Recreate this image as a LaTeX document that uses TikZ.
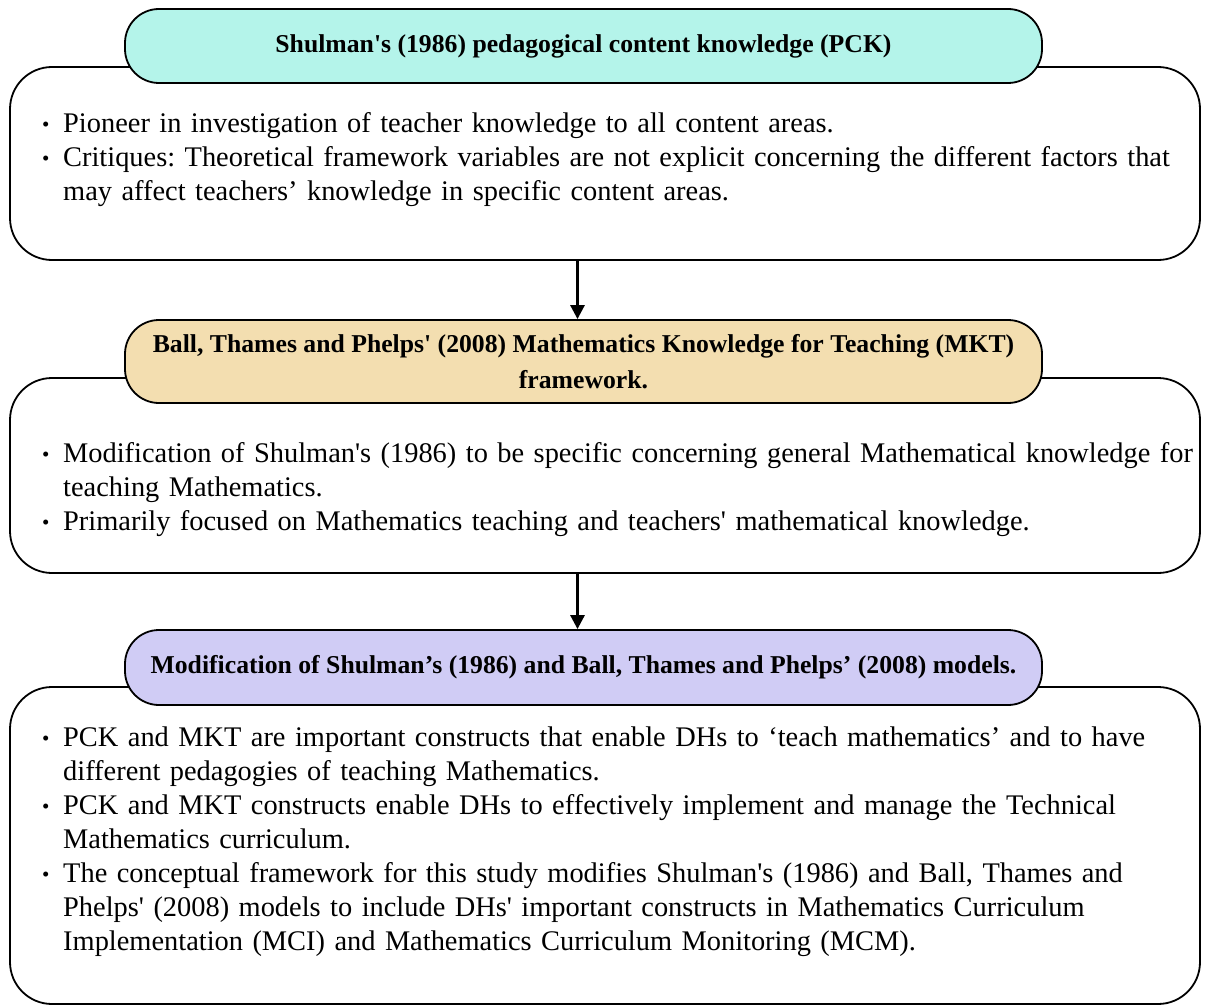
\documentclass[tikz,border=0pt]{standalone}
\usepackage{fontspec}
\setmainfont{Liberation Serif}
\usepackage{graphicx}
\usetikzlibrary{positioning,arrows.meta}

\definecolor{pckfill}{RGB}{180,244,234}
\definecolor{mktfill}{RGB}{243,222,176}
\definecolor{modfill}{RGB}{208,204,245}
\newcommand{\stapo}{\textquotesingle}
\newcommand{\bpt}[1]{\par\hangindent=21pt\hangafter=1\noindent\makebox[21pt][l]{\raisebox{1pt}{\fontsize{21}{21}\selectfont\textbullet}}#1\par}

\tikzset{
  bodybox/.style={draw, line width=1.8pt, rounded corners=42pt, fill=white, minimum width=1190pt},
  pill/.style={draw, line width=1.8pt, rounded corners=34pt, minimum width=917pt, align=center,
    font=\fontsize{25.7}{36}\selectfont\bfseries},
  bodytext/.style={anchor=north west, text width=1162pt, inner sep=0pt,
    font=\fontsize{28.4}{34}\selectfont\frenchspacing\raggedright},
  flow/.style={-{Triangle[length=14pt,width=14pt]}, line width=2.8pt}
}

\begin{document}
\begin{tikzpicture}[x=1pt, y=-1pt]
  \useasboundingbox (0,0) rectangle (1205,1006);
  % PCK
  \node[bodybox, minimum height=193pt] (pckbox) at (605,163.5) {};
  \node[pill, fill=pckfill, minimum height=74pt] (pck) at (583.5,46) {Shulman\stapo s (1986) pedagogical content knowledge (PCK)};
  \node[bodytext] (pcktxt) at (42,98) {%
    \bpt{Pioneer in investigation of teacher knowledge to all content areas.}
    \bpt{Critiques: Theoretical framework variables are not explicit concerning the different factors that\newline
    may affect teachers’ knowledge in specific content areas.}};
  % MKT
  \node[bodybox, minimum height=195pt] (mktbox) at (605,475.5) {};
  \node[pill, fill=mktfill, minimum height=83pt] (mkt) at (583.5,361.5) {Ball, Thames and Phelps\stapo\ (2008) Mathematics Knowledge for Teaching (MKT)\\ framework.};
  \node[bodytext] (mkttxt) at (42,428) {%
    \bpt{Modification of Shulman\stapo s (1986) to be specific concerning general Mathematical knowledge for\newline
    teaching Mathematics.}
    \bpt{Primarily focused on Mathematics teaching and teachers\stapo\ mathematical knowledge.}};
  % modified models
  \node[bodybox, minimum height=317pt] (modbox) at (605,845.5) {};
  \node[pill, fill=modfill, minimum height=75pt] (mod) at (583.5,667.5) {Modification of Shulman’s (1986) and Ball, Thames and Phelps’ (2008) models.};
  \node[bodytext] (modtxt) at (42,712) {%
    \bpt{PCK and MKT are important constructs that enable DHs to ‘teach mathematics’ and to have\newline
    different pedagogies of teaching Mathematics.}
    \bpt{PCK and MKT constructs enable DHs to effectively implement and manage the Technical\newline
    Mathematics curriculum.}
    \bpt{The conceptual framework for this study modifies Shulman\stapo s (1986) and Ball, Thames and\newline
    Phelps\stapo\ (2008) models to include DHs\stapo\ important constructs in Mathematics Curriculum\newline
    Implementation (MCI) and Mathematics Curriculum Monitoring (MCM).}};
  % arrows
  \draw[flow] ([xshift=-6pt]pckbox.south -| pck.south) -- ([xshift=-6pt]mkt.north);
  \draw[flow] ([xshift=-6pt]mktbox.south -| mkt.south) -- ([xshift=-6pt]mod.north);
\end{tikzpicture}
\end{document}
